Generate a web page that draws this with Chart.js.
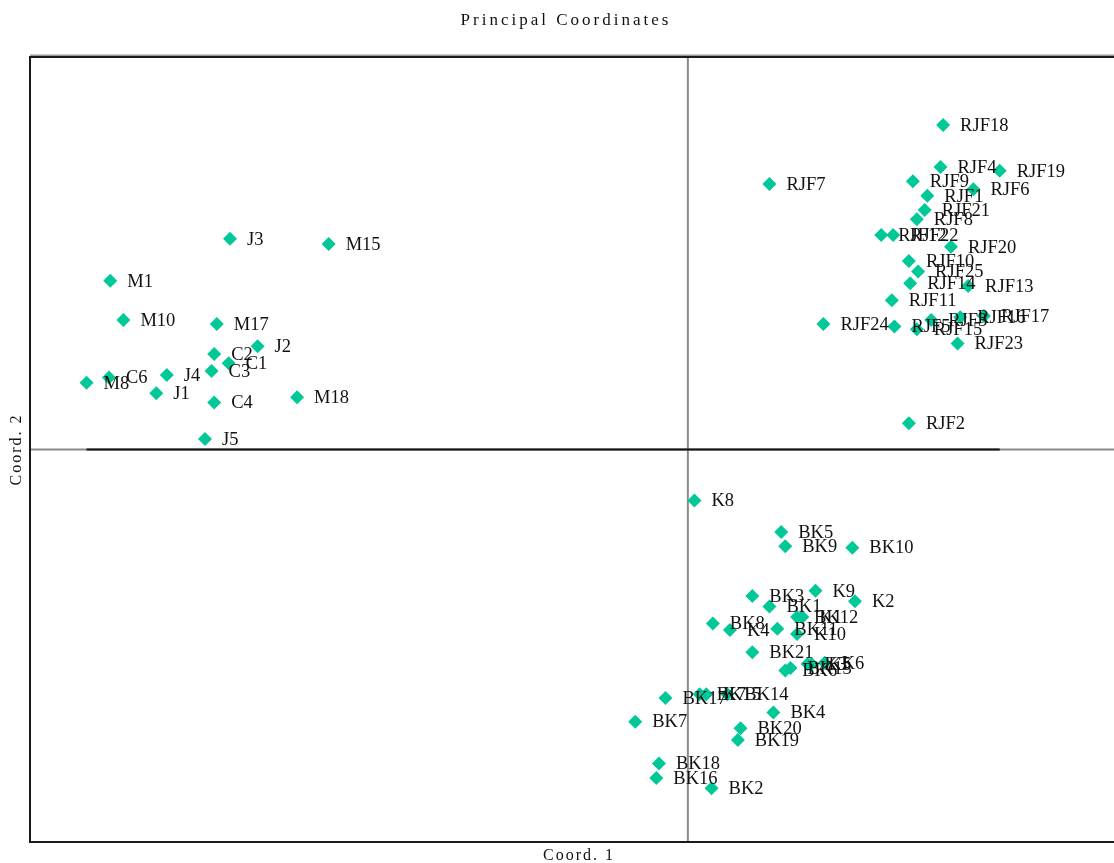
<!DOCTYPE html>
<html>
<head>
<meta charset="utf-8">
<script src="https://cdn.jsdelivr.net/npm/chart.js@4.4.1/dist/chart.umd.min.js"></script>
<style>
  html, body { margin: 0; padding: 0; background: #fff; overflow: hidden; }
  canvas { display: block; }
</style>
</head>
<body>
<canvas id="pcoa" width="1128" height="863" style="width:1128px;height:863px"></canvas>
<script>
// sample labels and their principal coordinates
const names = [
  "M1", "M10", "J3", "M15", "M17", "J2", "C2", "C1", "C3", "J4", "M8", "C6", "J1", "C4", "J5", "M18",
  "RJF18", "RJF4", "RJF19", "RJF9", "RJF6", "RJF1", "RJF21", "RJF8", "RJF12", "RJF22", "RJF7", "RJF20",
  "RJF10", "RJF25", "RJF14", "RJF13", "RJF11", "RJF24", "RJF5", "RJF15", "RJF3", "RJF16", "RJF17", "RJF23", "RJF2",
  "K8", "BK5", "BK9", "BK10", "BK3", "K9", "K2", "BK1", "BK12", "K1", "BK8", "K4", "BK11", "K10", "BK21",
  "BK6", "BK13", "K3", "K5", "K6", "BK17", "BK15", "K7", "BK14", "BK4", "BK7", "BK20", "BK19", "BK18", "BK16", "BK2"
];
const coord1 = [
  -0.439, -0.429, -0.348, -0.273, -0.358, -0.327, -0.360, -0.349, -0.362, -0.396, -0.457, -0.440, -0.404, -0.360, -0.367, -0.297,
  0.194, 0.192, 0.237, 0.171, 0.217, 0.182, 0.180, 0.174, 0.147, 0.156, 0.062, 0.200,
  0.168, 0.175, 0.169, 0.213, 0.155, 0.103, 0.157, 0.174, 0.185, 0.207, 0.225, 0.205, 0.168,
  0.005, 0.071, 0.074, 0.125, 0.049, 0.097, 0.127, 0.062, 0.083, 0.087, 0.019, 0.032, 0.068, 0.083, 0.049,
  0.074, 0.078, 0.091, 0.094, 0.104, -0.017, 0.009, 0.014, 0.030, 0.065, -0.040, 0.040, 0.038, -0.022, -0.024, 0.018
];
const coord2 = [
  0.129, 0.099, 0.161, 0.157, 0.096, 0.079, 0.073, 0.066, 0.060, 0.057, 0.051, 0.055, 0.043, 0.036, 0.008, 0.040,
  0.248, 0.216, 0.213, 0.205, 0.199, 0.194, 0.183, 0.176, 0.164, 0.164, 0.203, 0.155,
  0.144, 0.136, 0.127, 0.125, 0.114, 0.096, 0.094, 0.092, 0.099, 0.101, 0.102, 0.081, 0.020,
  -0.039, -0.063, -0.074, -0.075, -0.112, -0.108, -0.116, -0.120, -0.128, -0.128, -0.133, -0.138, -0.137, -0.141, -0.155,
  -0.169, -0.167, -0.164, -0.164, -0.163, -0.190, -0.187, -0.187, -0.187, -0.201, -0.208, -0.213, -0.222, -0.240, -0.251, -0.259
];

const SERIF = "'Liberation Serif', 'DejaVu Serif', serif";

const points = names.map((n, i) => ({ x: coord1[i], y: coord2[i], label: n }));

// axes cross at zero, frame, point labels and titles
const pcoaDecor = {
  id: "pcoaDecor",
  beforeDatasetsDraw(chart) {
    const { ctx, chartArea: a, scales } = chart;
    const x0 = scales.x.getPixelForValue(0);
    const y0 = scales.y.getPixelForValue(0);
    ctx.save();
    ctx.lineWidth = 2;
    ctx.strokeStyle = "#8a8a8a";
    ctx.beginPath();
    ctx.moveTo(x0, a.top);
    ctx.lineTo(x0, a.bottom);
    ctx.moveTo(a.left, y0);
    ctx.lineTo(a.right, y0);
    ctx.stroke();
    // darker part of the horizontal axis, spanning the data
    const xmin = Math.min(...coord1), xmax = Math.max(...coord1);
    ctx.strokeStyle = "#111";
    ctx.beginPath();
    ctx.moveTo(scales.x.getPixelForValue(xmin), y0);
    ctx.lineTo(scales.x.getPixelForValue(xmax), y0);
    ctx.stroke();
    ctx.restore();
  },
  afterDraw(chart) {
    const { ctx, chartArea: a } = chart;
    ctx.save();
    // frame
    ctx.lineWidth = 2;
    ctx.strokeStyle = "#9a9a9a";
    ctx.beginPath();
    ctx.moveTo(a.left, a.top - 1.5);
    ctx.lineTo(a.right + 20, a.top - 1.5);
    ctx.stroke();
    ctx.strokeStyle = "#1a1a1a";
    ctx.beginPath();
    ctx.moveTo(a.right + 20, a.top);
    ctx.lineTo(a.left, a.top);
    ctx.lineTo(a.left, a.bottom);
    ctx.lineTo(a.right + 20, a.bottom);
    ctx.stroke();

    // point labels
    const meta = chart.getDatasetMeta(0);
    ctx.fillStyle = "#111";
    ctx.font = "18.5px " + SERIF;
    ctx.textAlign = "left";
    ctx.textBaseline = "middle";
    meta.data.forEach((el, i) => {
      ctx.fillText(names[i], el.x + 17, el.y + 1);
    });

    // titles
    ctx.textAlign = "center";
    ctx.textBaseline = "middle";
    ctx.font = "17px " + SERIF;
    ctx.letterSpacing = "3px";
    ctx.fillText("Principal Coordinates", (a.left + a.right) / 2 - 12, 21);
    ctx.font = "16px " + SERIF;
    ctx.letterSpacing = "2px";
    ctx.fillText("Coord. 1", (a.left + a.right) / 2 + 1, 856);
    ctx.translate(17, (a.top + a.bottom) / 2);
    ctx.rotate(-Math.PI / 2);
    ctx.fillText("Coord. 2", 0, 0);
    ctx.restore();
  }
};

const config = {
  type: "scatter",
  data: {
    datasets: [
      {
        label: "samples",
        data: points,
        pointStyle: "rectRot",
        pointRadius: 7,
        pointHoverRadius: 7,
        backgroundColor: "#00c896",
        borderColor: "#00c896",
        borderWidth: 0,
      },
    ],
  },
  options: {
    responsive: false,
    animation: false,
    layout: {
      autoPadding: false,
      padding: { left: 30, top: 57, right: 2, bottom: 21 },
    },
    scales: {
      x: { type: "linear", display: false, min: -0.5, max: 0.333 },
      y: { type: "linear", display: false, min: -0.3, max: 0.3 },
    },
    plugins: {
      legend: { display: false },
      title: { display: false },
      tooltip: { enabled: false },
    },
  },
  plugins: [pcoaDecor],
};

new Chart(document.getElementById("pcoa"), config);
</script>
</body>
</html>
